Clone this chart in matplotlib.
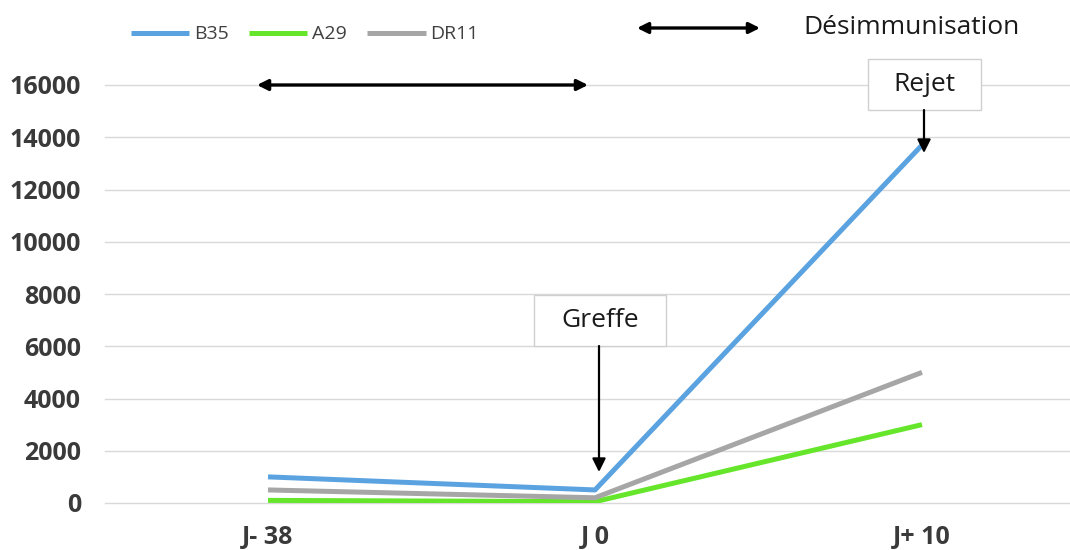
import matplotlib
matplotlib.use("Agg")
import matplotlib.pyplot as plt
from matplotlib.patches import Rectangle, FancyArrowPatch

# ---- data ----
categories = ["J- 38", "J 0", "J+ 10"]
b35 = [1000, 500, 13700]
a29 = [100, 50, 3000]
dr11 = [500, 200, 5000]
yticks = [0, 2000, 4000, 6000, 8000, 10000, 12000, 14000, 16000]

W, H = 1070, 550
fig = plt.figure(figsize=(W / 100, H / 100), dpi=100)
fig.patch.set_facecolor("white")

def fx(x):
    return x / W

def fy(y):
    return 1 - y / H

left, right = 104.5, 1085.5
top, bottom = 85, 503
ax = fig.add_axes([fx(left), fy(bottom), (right - left) / W, (bottom - top) / H])

x = list(range(len(categories)))
lw = 3.6
ax.plot(x, b35, color="#5ba3e0", lw=lw, solid_capstyle="butt", zorder=3, label="B35")
ax.plot(x, a29, color="#66e62a", lw=lw, solid_capstyle="butt", zorder=3, label="A29")
ax.plot(x, dr11, color="#a6a6a6", lw=lw, solid_capstyle="butt", zorder=3, label="DR11")

ax.set_xlim(-0.5, len(categories) - 0.5)
ax.set_ylim(0, 16000)
ax.set_yticks(yticks)
ax.set_yticklabels([str(v) for v in yticks])
ax.set_xticks(x)
ax.set_xticklabels(categories)
ax.grid(axis="y", color="#d9d9d9", lw=1.0, zorder=0)
for gl in ax.get_ygridlines():
    gl.set_clip_on(False)
ax.set_axisbelow(True)
for s in ax.spines.values():
    s.set_visible(False)
ax.tick_params(axis="both", length=0)
ax.tick_params(axis="y", pad=17)
ax.tick_params(axis="x", pad=16)
for lab in ax.get_yticklabels():
    lab.set_fontfamily("Open Sans")
    lab.set_fontweight("bold")
    lab.set_fontsize(18)
    lab.set_color("#3a3a3a")
for lab in ax.get_xticklabels():
    lab.set_fontfamily("Open Sans")
    lab.set_fontweight("bold")
    lab.set_fontsize(18)
    lab.set_color("#3a3a3a")

# legend
leg = fig.legend(loc="upper left", bbox_to_anchor=(fx(113), fy(8)), ncol=3, frameon=False,
                 handlelength=3.0, handletextpad=0.25, columnspacing=1.05,
                 prop={"family": "Open Sans", "size": 14})
for t in leg.get_texts():
    t.set_color("#404040")

def farrow(x0, y0, x1, y1, style, ms=14, lw=2.2):
    a = FancyArrowPatch((fx(x0), fy(y0)), (fx(x1), fy(y1)), transform=fig.transFigure,
                        arrowstyle=style, mutation_scale=ms, color="black", lw=lw,
                        shrinkA=0, shrinkB=0, zorder=6)
    fig.add_artist(a)

# double arrows
farrow(257, 85, 588, 85, "<|-|>", ms=16, lw=2.4)
farrow(637, 28, 760, 28, "<|-|>", ms=16, lw=2.4)
fig.text(fx(803), fy(27), "Désimmunisation", fontfamily="Open Sans", fontsize=19,
         color="#1a1a1a", va="center", ha="left")

# annotation boxes
def box(x0, y0, x1, y1, label):
    r = Rectangle((fx(x0), fy(y1)), fx(x1) - fx(x0), fy(y0) - fy(y1), transform=fig.transFigure,
                  facecolor="white", edgecolor="#d0d0d0", lw=1.0, zorder=5)
    fig.add_artist(r)
    fig.text(fx((x0 + x1) / 2), fy((y0 + y1) / 2), label, fontfamily="Open Sans", fontsize=19,
             color="#1a1a1a", ha="center", va="center", zorder=7)

box(534, 295, 666, 346, "Greffe")
farrow(599, 346, 599, 472, "-|>", ms=20, lw=1.6)
box(868, 59, 981, 110, "Rejet")
farrow(924, 110, 924, 153, "-|>", ms=20, lw=1.6)

fig.savefig("out.png", dpi=100, facecolor="white")
